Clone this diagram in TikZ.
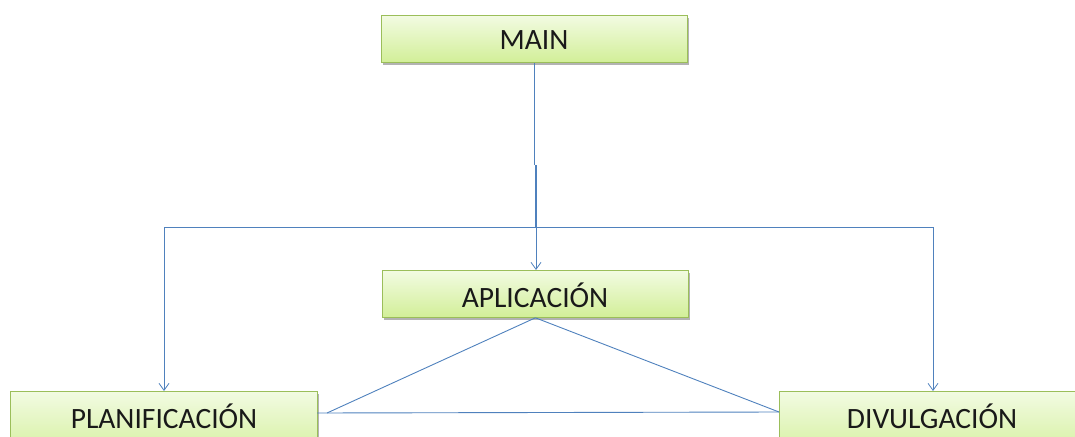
\documentclass[tikz,border=0pt]{standalone}
\usepackage{fontspec}
\setmainfont{Carlito}
\usetikzlibrary{arrows.meta,shadows}
\definecolor{boxborder}{RGB}{155,190,90}
\definecolor{boxtop}{RGB}{242,251,226}
\definecolor{boxbot}{RGB}{210,239,152}
\definecolor{conn}{RGB}{79,129,189}
\tikzset{
  box/.style={draw=boxborder, line width=0.8pt, top color=boxtop, bottom color=boxbot,
    minimum width=306pt, minimum height=47pt, inner sep=0pt,
    drop shadow={shadow xshift=1.5pt, shadow yshift=-2.5pt, fill=black!50, opacity=0.6},
    anchor=north west},
  lbl/.style={font=\fontsize{29.5}{32}\selectfont, text=black!90, anchor=center},
  conn/.style={draw=conn, line width=0.9pt},
  arr/.style={conn, -{Straight Barb[length=7pt,width=10pt,line width=0.8pt]}}
}
\begin{document}
\begin{tikzpicture}[x=1pt,y=-1pt]
\useasboundingbox (0,0) rectangle (1075,436);
\clip (0,0) rectangle (1075,436);
\node[box] (main) at (381,15) {};
\node[lbl] at (534,40) {MAIN};
\node[box] (apl) at (382,270) {};
\node[lbl] at (535,295) {APLICACIÓN};
\node[box, minimum width=307pt, minimum height=70pt] (plan) at (10,391) {};
\node[lbl] at (164,416) {PLANIFICACIÓN};
\node[box, minimum width=310pt, minimum height=70pt] (div) at (779,391) {};
\node[lbl] at (932,416) {DIVULGACIÓN};
\coordinate (m1) at (534,165);
\coordinate (m2) at (536,165);
\coordinate (j) at (536,227);
\coordinate (l) at (164,227);
\coordinate (r) at (933,227);
\coordinate (pr) at (317,413);
\coordinate (pt) at (327,413);
\coordinate (dl) at (779,412);
\draw[conn] (main.south -| m1) -- (m1);
\draw[conn, line width=1.4pt] (m2) -- (j);
\draw[conn] (l) -- (r);
\draw[arr] (j) -- (apl.north -| j);
\draw[arr] (l) -- (plan.north -| l);
\draw[arr] (r) -- (div.north -| r);
\draw[conn] (apl.south) -- (pt);
\draw[conn] (apl.south) -- (dl);
\draw[conn] (pr) -- (dl);
\end{tikzpicture}
\end{document}
